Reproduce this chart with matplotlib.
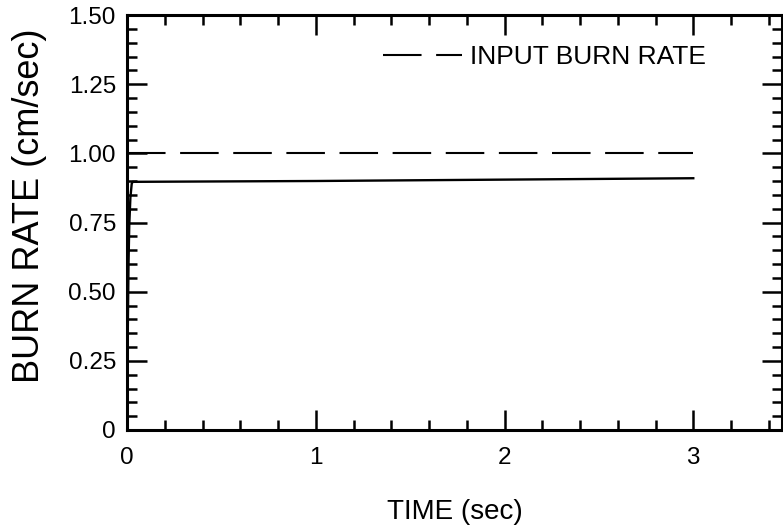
import matplotlib
matplotlib.use("Agg")
import matplotlib.pyplot as plt
from matplotlib.ticker import MultipleLocator, FixedFormatter, FixedLocator

plt.rcParams['font.family'] = ['Liberation Sans', 'DejaVu Sans']

# computed burn rate (solid)
t_calc = [0.0, 0.004, 0.008, 0.012, 0.018, 0.025, 0.03, 1.0, 2.0, 3.0]
r_calc = [0.0, 0.35, 0.6, 0.74, 0.84, 0.89, 0.897, 0.9, 0.905, 0.91]

# input burn rate (dashed)
t_input = [0.0, 3.0]
r_input = [1.0, 1.0]

xticks = [0, 1, 2, 3]
yticks = [0, 0.25, 0.5, 0.75, 1.0, 1.25, 1.5]
ylabels = ['0', '0.25', '0.50', '0.75', '1.00', '1.25', '1.50']

fig = plt.figure(figsize=(7.83, 5.32), dpi=100)
ax = fig.add_axes([127/783, 102/532, 655/783, 415/532])

ax.plot(t_calc, r_calc, 'k-', lw=1.7)
ax.plot(t_input, r_input, color='k', lw=1.5, linestyle=(0, (18.5, 7)),
        label='INPUT BURN RATE')

ax.set_xlim(0, 3.47)
ax.set_ylim(0, 1.5)
ax.xaxis.set_major_locator(FixedLocator(xticks))
ax.xaxis.set_minor_locator(MultipleLocator(0.2))
ax.yaxis.set_major_locator(FixedLocator(yticks))
ax.yaxis.set_major_formatter(FixedFormatter(ylabels))
ax.yaxis.set_minor_locator(MultipleLocator(0.05))

ax.tick_params(which='both', direction='in', top=True, right=True,
               width=1.8, labelsize=17.5)
ax.tick_params(which='major', length=14.5)
ax.tick_params(which='minor', length=7)
ax.tick_params(axis='x', which='major', pad=12)
ax.tick_params(axis='y', which='major', pad=8)
for s in ax.spines.values():
    s.set_linewidth(2.2)

ax.set_xlabel('TIME (sec)', fontsize=20, labelpad=22)
ax.set_ylabel('BURN RATE (cm/sec)', fontsize=26)
ax.yaxis.set_label_coords(-0.122, 0.54)

ax.legend(loc='upper right', bbox_to_anchor=(0.92, 0.985), frameon=False,
          fontsize=19, handlelength=3.0, handletextpad=0.3)

fig.savefig('out.png', dpi=100)
